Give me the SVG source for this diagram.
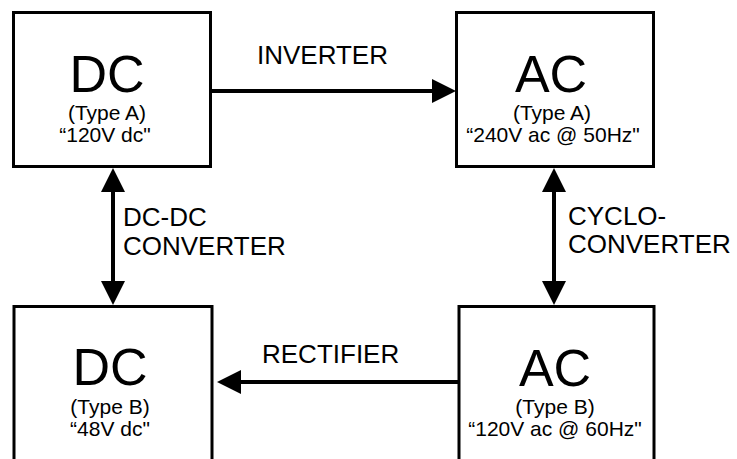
<svg xmlns="http://www.w3.org/2000/svg" width="737" height="459" viewBox="0 0 737 459">
<defs>
<style>
.box{fill:#fff;stroke:#000;stroke-width:3}
.big{font-family:"Liberation Sans",Arial,sans-serif;font-size:52px;fill:#000;text-anchor:middle}
.sub{font-family:"Liberation Sans",Arial,sans-serif;font-size:21px;fill:#000;text-anchor:middle}
.lbl{font-family:"Liberation Sans",Arial,sans-serif;font-size:26px;fill:#000}
.conn{stroke:#000;stroke-width:4;fill:none}
</style>
<marker id="ah" viewBox="0 0 24 24" refX="0" refY="12" markerWidth="24" markerHeight="24" markerUnits="userSpaceOnUse" orient="auto-start-reverse">
<path d="M0,0 L24,12 L0,24 Z" fill="#000"/>
</marker>
</defs>
<rect width="737" height="459" fill="#fff"/>
<g id="connectors">
<line class="conn" x1="211" y1="91" x2="432" y2="91" marker-end="url(#ah)"/>
<line class="conn" x1="459" y1="382" x2="241" y2="382" marker-end="url(#ah)"/>
<line class="conn" x1="113" y1="192" x2="113" y2="281" marker-start="url(#ah)" marker-end="url(#ah)"/>
<line class="conn" x1="554" y1="192" x2="554" y2="281" marker-start="url(#ah)" marker-end="url(#ah)"/>
<text class="lbl" x="257" y="64">INVERTER</text>
<text class="lbl" x="262" y="363">RECTIFIER</text>
<text class="lbl" x="123" y="226">DC-DC</text>
<text class="lbl" x="123" y="255">CONVERTER</text>
<text class="lbl" x="568" y="225">CYCLO-</text>
<text class="lbl" x="568" y="253">CONVERTER</text>
</g>
<g id="dcA">
<rect class="box" x="13.5" y="12.5" width="197" height="154"/>
<text class="big" x="107" y="92">DC</text>
<text class="sub" x="107" y="120">(Type A)</text>
<text class="sub" x="105" y="142">“120V dc"</text>
</g>
<g id="acA">
<rect class="box" x="456.5" y="12.5" width="197" height="154"/>
<text class="big" x="551" y="92">AC</text>
<text class="sub" x="552" y="120">(Type A)</text>
<text class="sub" x="553" y="142">“240V ac @ 50Hz"</text>
</g>
<g id="dcB">
<rect class="box" x="14" y="306.5" width="198" height="200"/>
<text class="big" x="110" y="385">DC</text>
<text class="sub" x="110" y="414">(Type B)</text>
<text class="sub" x="110" y="436">“48V dc"</text>
</g>
<g id="acB">
<rect class="box" x="459" y="306.5" width="195" height="200"/>
<text class="big" x="555" y="386">AC</text>
<text class="sub" x="555" y="414">(Type B)</text>
<text class="sub" x="555" y="436">“120V ac @ 60Hz"</text>
</g>
</svg>
